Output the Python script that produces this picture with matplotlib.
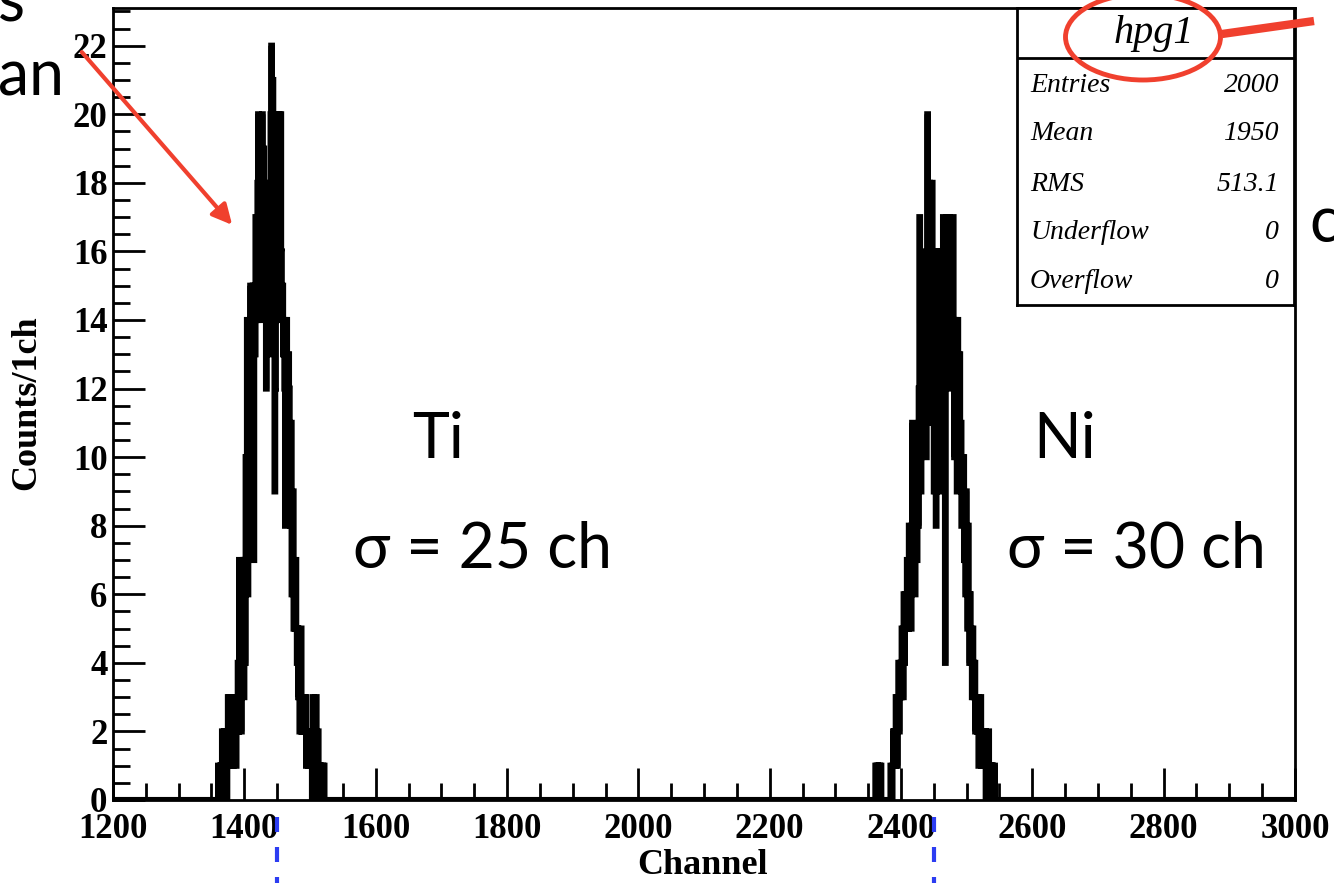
import numpy as np
import matplotlib
matplotlib.use("Agg")
import matplotlib.pyplot as plt
import matplotlib.transforms as mtransforms
from matplotlib.patches import Ellipse, FancyArrowPatch
from matplotlib.lines import Line2D

# ---------------- data ----------------
channel_min = 1200
channel_max = 3000

ti_first_channel = 1360
ti_counts = [
    1, 0, 0, 1, 0, 1, 2, 1, 0, 2,
    2, 1, 2, 0, 2, 3, 1, 2, 3, 2,
    2, 2, 1, 2, 3, 2, 2, 1, 2, 2,
    4, 2, 7, 3, 5, 2, 6, 4, 7, 3,
    7, 4, 10, 8, 14, 6, 13, 10, 12, 15,
    9, 14, 12, 15, 7, 14, 13, 17, 15, 14,
    18, 20, 16, 14, 15, 18, 17, 20, 16, 19,
    17, 15, 16, 12, 14, 16, 13, 15, 18, 17,
    20, 22, 19, 21, 16, 14, 9, 12, 14, 16,
    18, 15, 20, 17, 19, 20, 16, 14, 15, 13,
    14, 12, 8, 10, 14, 11, 9, 13, 12, 10,
    8, 11, 6, 7, 9, 5, 6, 5, 7, 5,
    4, 5, 3, 4, 2, 3, 5, 2, 3, 2,
    3, 2, 2, 3, 1, 2, 2, 1, 2, 2,
    2, 1, 2, 0, 3, 1, 2, 1, 0, 3,
    1, 0, 2, 0, 1, 1, 0, 0, 1, 1,
    0, 1, 0, 0, 0,
]

ni_first_channel = 2355
ni_counts = [
    0, 0, 0, 0, 0, 0, 1, 0, 1, 1,
    0, 1, 1, 0, 1, 0, 0, 0, 0, 0,
    0, 0, 0, 0, 0, 0, 0, 0, 0, 1,
    1, 0, 1, 2, 1, 2, 1, 3, 2, 1,
    3, 4, 2, 3, 4, 3, 5, 4, 3, 6,
    4, 5, 6, 5, 7, 6, 5, 8, 6, 7,
    5, 8, 11, 7, 9, 8, 6, 10, 9, 7,
    10, 8, 12, 17, 14, 9, 13, 15, 11, 16,
    13, 14, 12, 10, 15, 20, 16, 13, 18, 12,
    15, 11, 18, 14, 12, 9, 13, 15, 8, 16,
    14, 10, 13, 16, 12, 15, 11, 9, 14, 17,
    12, 16, 4, 13, 15, 17, 16, 14, 17, 15,
    12, 15, 16, 14, 17, 13, 10, 14, 12, 13,
    9, 14, 11, 12, 13, 10, 11, 8, 10, 9,
    10, 7, 8, 6, 9, 7, 5, 8, 6, 4,
    6, 5, 4, 3, 5, 4, 3, 4, 2, 3,
    3, 2, 3, 1, 2, 2, 3, 1, 2, 1,
    2, 1, 1, 2, 0, 1, 1, 0, 2, 1,
    0, 1, 1, 0, 1, 0, 0, 1, 0, 0,
]

peak_centres = [1450, 2450]

x_ticks = [1200, 1400, 1600, 1800, 2000, 2200, 2400, 2600, 2800, 3000]
y_ticks = [0, 2, 4, 6, 8, 10, 12, 14, 16, 18, 20, 22]

hist_name = "hpg1"
stat_names = ["Entries", "Mean", "RMS", "Underflow", "Overflow"]
stat_values = ["2000", "1950", "513.1", "0", "0"]

# ---------------- figure ----------------
W, H = 1334, 883
fig = plt.figure(figsize=(W / 100, H / 100), dpi=100)
fig.patch.set_facecolor("white")


def fx(x):
    return x / W


def fy(y):
    return 1 - y / H


serif = ["Liberation Serif", "DejaVu Serif"]
sans = ["Lato", "DejaVu Sans"]

ax = fig.add_axes([fx(113), fy(800), fx(1295) - fx(113), fy(8) - fy(800)])

edges = np.arange(channel_min, channel_max + 1)
counts = np.zeros(channel_max - channel_min)
i0 = ti_first_channel - channel_min
counts[i0:i0 + len(ti_counts)] = ti_counts
i1 = ni_first_channel - channel_min
counts[i1:i1 + len(ni_counts)] = ni_counts

ax.stairs(counts, edges, color="black", linewidth=4.4, baseline=None)

ax.set_xlim(channel_min, channel_max)
ax.set_ylim(0, 23.1)
ax.set_xticks(x_ticks)
ax.set_xticks(np.arange(channel_min, channel_max + 1, 50), minor=True)
ax.set_yticks(y_ticks)
ax.set_yticks(np.arange(0, 23.1, 0.5), minor=True)

for sp in ax.spines.values():
    sp.set_linewidth(2)

ax.tick_params(axis="both", which="major", direction="in", length=23, width=2,
               top=False, right=False, labelsize=25)
ax.tick_params(axis="both", which="minor", direction="in", length=12, width=2,
               top=False, right=False)
ax.tick_params(axis="x", which="major", pad=9)
ax.tick_params(axis="y", which="major", pad=4)
for lab in ax.get_xticklabels() + ax.get_yticklabels():
    lab.set_fontfamily(serif)
    lab.set_fontweight("bold")

fig.text(fx(27), fy(403), "Counts/1ch", rotation=90, ha="center", va="center",
         fontsize=26, fontweight="bold", family=serif)
fig.text(fx(703), fy(865), "Channel", ha="center", va="center",
         fontsize=26, fontweight="bold", family=serif)

# ---------------- stats box ----------------
sb = fig.add_axes([fx(1017), fy(305), fx(1294) - fx(1017), fy(8) - fy(305)])
sb.set_xticks([])
sb.set_yticks([])
sb.set_xlim(0, 1)
sb.set_ylim(0, 1)
for sp in sb.spines.values():
    sp.set_linewidth(2)
sb.axhline((305 - 58) / 297, color="black", linewidth=2)
sb.text((1154 - 1017) / 277, (305 - 33) / 297, hist_name, ha="center", va="center",
        fontsize=29, style="italic", family=serif)
row_y = [85, 134, 184, 232, 281]
for name, val, yy in zip(stat_names, stat_values, row_y):
    sb.text(13 / 277, (305 - yy) / 297, name, ha="left", va="center",
            fontsize=20, style="italic", family=serif)
    sb.text(262 / 277, (305 - yy) / 297, val, ha="right", va="center",
            fontsize=20, style="italic", family=serif)

# ---------------- slide annotations ----------------
red = "#f0402e"
blue = "#2c3df2"

ell = Ellipse((fx(1143), fy(37)), 155 / W, 86 / H, transform=fig.transFigure,
              fill=False, edgecolor=red, linewidth=3.5, zorder=20)
fig.add_artist(ell)
fig.add_artist(Line2D([fx(1222), fx(1314)], [fy(34), fy(21)],
                      transform=fig.transFigure, color=red, linewidth=6,
                      solid_capstyle="butt", zorder=20))
arrow = FancyArrowPatch((fx(80), fy(50)), (fx(234), fy(227)),
                        transform=fig.transFigure, arrowstyle="-|>",
                        mutation_scale=30, color=red, linewidth=3, zorder=20)
fig.add_artist(arrow)

trans = mtransforms.blended_transform_factory(ax.transData, fig.transFigure)
for c in peak_centres:
    fig.add_artist(Line2D([c, c], [fy(817), fy(883)], transform=trans,
                          color=blue, linewidth=3, linestyle=(0, (3.6, 3.6)),
                          clip_on=False, zorder=20))

big = 45
fig.text(fx(412), fy(458), "Ti", ha="left", va="baseline", fontsize=big, family=sans)
fig.text(fx(353), fy(568), "σ = 25 ch", ha="left", va="baseline", fontsize=big, family=sans)
fig.text(fx(1033), fy(458), "Ni", ha="left", va="baseline", fontsize=big, family=sans)
fig.text(fx(1007), fy(568), "σ = 30 ch", ha="left", va="baseline", fontsize=big, family=sans)
fig.text(fx(-2), fy(22), "s", ha="left", va="baseline", fontsize=big, family=sans)
fig.text(fx(-2), fy(95), "an", ha="left", va="baseline", fontsize=big, family=sans)
fig.text(fx(1309), fy(242), "c", ha="left", va="baseline", fontsize=big, family=sans)

fig.savefig("out.png", dpi=100)
